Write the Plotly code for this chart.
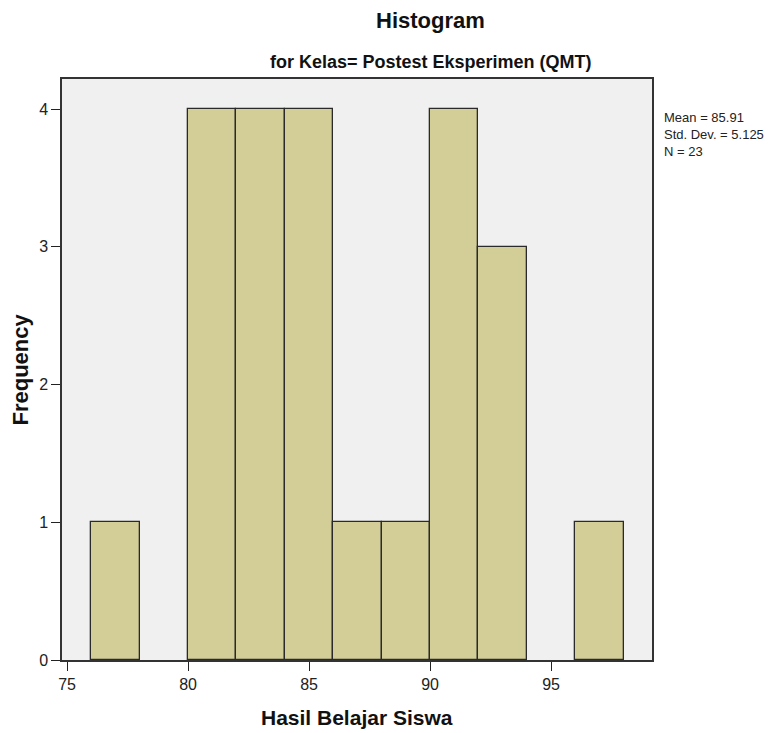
import plotly.graph_objects as go

bin_centers = [77, 79, 81, 83, 85, 87, 89, 91, 93, 95, 97]
frequencies = [1, 0, 4, 4, 4, 1, 1, 4, 3, 0, 1]
x_ticks = [75, 80, 85, 90, 95]
y_ticks = [0, 1, 2, 3, 4]
stats_lines = ["Mean = 85.91", "Std. Dev. = 5.125", "N = 23"]

edge_widths = [1.3 if f > 0 else 0 for f in frequencies]

fig = go.Figure()
fig.add_trace(go.Bar(
    x=bin_centers, y=frequencies, width=2,
    marker=dict(color="#D3CE97", line=dict(color="#2a2a2a", width=edge_widths)),
    showlegend=False,
))

font = "Liberation Sans, Arial, sans-serif"
# page body has an 8px margin, so the figure is sized to fit the 783x733 window
fig.update_layout(
    width=775, height=725,
    margin=dict(l=54, r=131, t=71, b=73, autoexpand=False),
    paper_bgcolor="white", plot_bgcolor="#F0F0F0",
    font=dict(family=font, color="#222222", size=12),
    bargap=0,
)
fig.add_annotation(text="<b>Histogram</b>", xref="paper", yref="paper",
                   x=0.6254, y=1, yshift=59, xanchor="center", yanchor="middle",
                   showarrow=False, font=dict(size=22, color="#111111"))
fig.add_annotation(text="<b>for Kelas= Postest Eksperimen (QMT)</b>", xref="paper", yref="paper",
                   x=0.6254, y=1, yshift=17, xanchor="center", yanchor="middle",
                   showarrow=False, font=dict(size=18, color="#111111"))
fig.add_annotation(text="<br>".join(stats_lines), xref="paper", yref="paper", x=1, xshift=10,
                   y=1, yshift=-55, xanchor="left", yanchor="middle", align="left",
                   showarrow=False, font=dict(size=13, color="#222222"))
fig.add_annotation(text="<b>Hasil Belajar Siswa</b>", xref="paper", yref="paper",
                   x=0.5, y=0, yshift=-57, xanchor="center", yanchor="middle",
                   showarrow=False, font=dict(size=21, color="#111111"))
fig.add_annotation(text="<b>Frequency</b>", xref="paper", yref="paper", textangle=-90,
                   x=0, xshift=-42, y=0.5, xanchor="center", yanchor="middle",
                   showarrow=False, font=dict(size=22, color="#111111"))
fig.update_xaxes(range=[74.79, 99.17], tickvals=x_ticks, ticks="outside", ticklen=9,
                 tickcolor="#222222", tickwidth=1.3, showline=True, linecolor="#333333", linewidth=1.5,
                 mirror=True, showgrid=False, zeroline=False, automargin=False,
                 tickfont=dict(size=16))
fig.update_yaxes(range=[0, 4.218], tickvals=y_ticks, ticks="outside", ticklen=9,
                 tickcolor="#222222", tickwidth=1.3, showline=True, linecolor="#333333", linewidth=1.5,
                 mirror=True, showgrid=False, zeroline=False, automargin=False,
                 tickfont=dict(size=16))
fig.write_html("out.html")
